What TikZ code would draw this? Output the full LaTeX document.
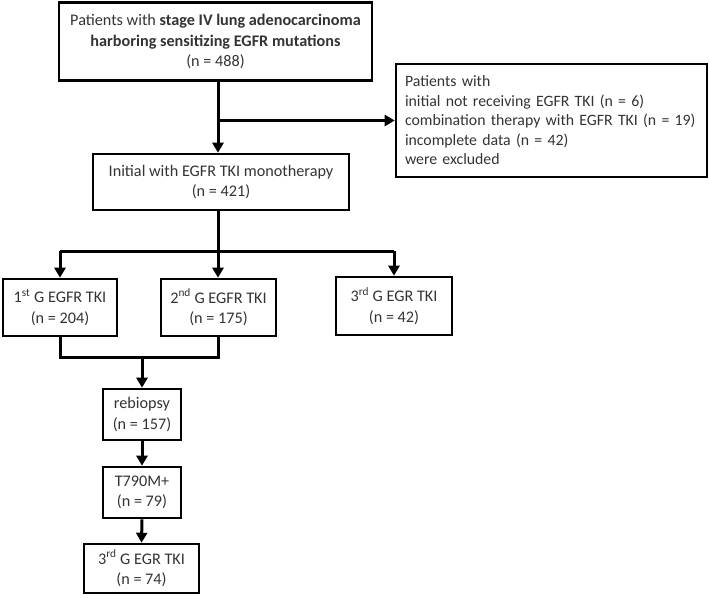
\documentclass[tikz,border=0pt]{standalone}
\usepackage{fontspec}
\setmainfont{Carlito}
\usetikzlibrary{arrows.meta}

\begin{document}
\begin{tikzpicture}[x=1pt,y=-1pt,line width=3pt,
    box/.style={draw,line width=2.6pt,align=center,inner sep=2pt,text=black!80,
      font=\fontsize{16.2}{20.5}\selectfont},
    arr/.style={-{Triangle[length=10pt,width=11pt]}}]
    \useasboundingbox (0,0) rectangle (709,598);
    % boxes
    \node[box,minimum width=313pt,minimum height=78pt] (all) at (215.5,41.5)
      {Patients with \textbf{stage IV lung adenocarcinoma}\\
       \textbf{harboring sensitizing EGFR mutations}\\(n = 488)};
    \node[box,align=left,minimum width=311pt,minimum height=113pt,text width=293pt,
      font=\fontsize{15.8}{19.5}\selectfont] (excl) at (551.5,120.5)
      {Patients with\\initial not receiving EGFR TKI (n = 6)\\
       combination therapy with EGFR TKI (n = 19)\\incomplete data (n = 42)\\were excluded};
    \node[box,minimum width=256pt,minimum height=56pt] (init) at (221,182)
      {Initial with EGFR TKI monotherapy\\(n = 421)};
    \node[box,minimum width=114pt,minimum height=57pt] (gone) at (60,307.5)
      {1\textsuperscript{st} G EGFR TKI\\(n = 204)};
    \node[box,minimum width=115pt,minimum height=57pt] (gtwo) at (218.5,307.5)
      {2\textsuperscript{nd} G EGFR TKI\\(n = 175)};
    \node[box,minimum width=116pt,minimum height=58pt] (gthree) at (394,306)
      {3\textsuperscript{rd} G EGR TKI\\(n = 42)};
    \node[box,minimum width=78pt,minimum height=51pt] (rebio) at (142,414.5)
      {rebiopsy\\(n = 157)};
    \node[box,minimum width=78pt,minimum height=51pt] (tmut) at (142,492.5)
      {T790M+\\(n = 79)};
    \node[box,minimum width=115pt,minimum height=49pt] (osim) at (141.5,568.5)
      {3\textsuperscript{rd} G EGR TKI\\(n = 74)};
    % connectors
    \coordinate (trunk) at (218,0);
    \coordinate (out) at (trunk |- excl.west);
    \coordinate (fork) at (trunk |- 0,251);
    \coordinate (join) at (rebio.north |- 0,357);
    \draw[arr] (trunk |- all.south) -- (trunk |- init.north);
    \draw[arr] (out) -- (excl.west);
    \draw (trunk |- init.south) -- (fork);
    \draw (gone.north |- fork) -- (gthree.north |- fork);
    \draw[arr] (gone.north |- fork) -- (gone.north);
    \draw[arr] (fork) -- (trunk |- gtwo.north);
    \draw[arr] (gthree.north |- fork) -- (gthree.north);
    \draw (gone.south) -- (gone.south |- join) -- (gtwo.south |- join) -- (gtwo.south);
    \draw[arr] (join) -- (rebio.north);
    \draw[arr] (rebio.south) -- (tmut.north);
    \draw[arr] (tmut.south) -- (osim.north);
\end{tikzpicture}
\end{document}
